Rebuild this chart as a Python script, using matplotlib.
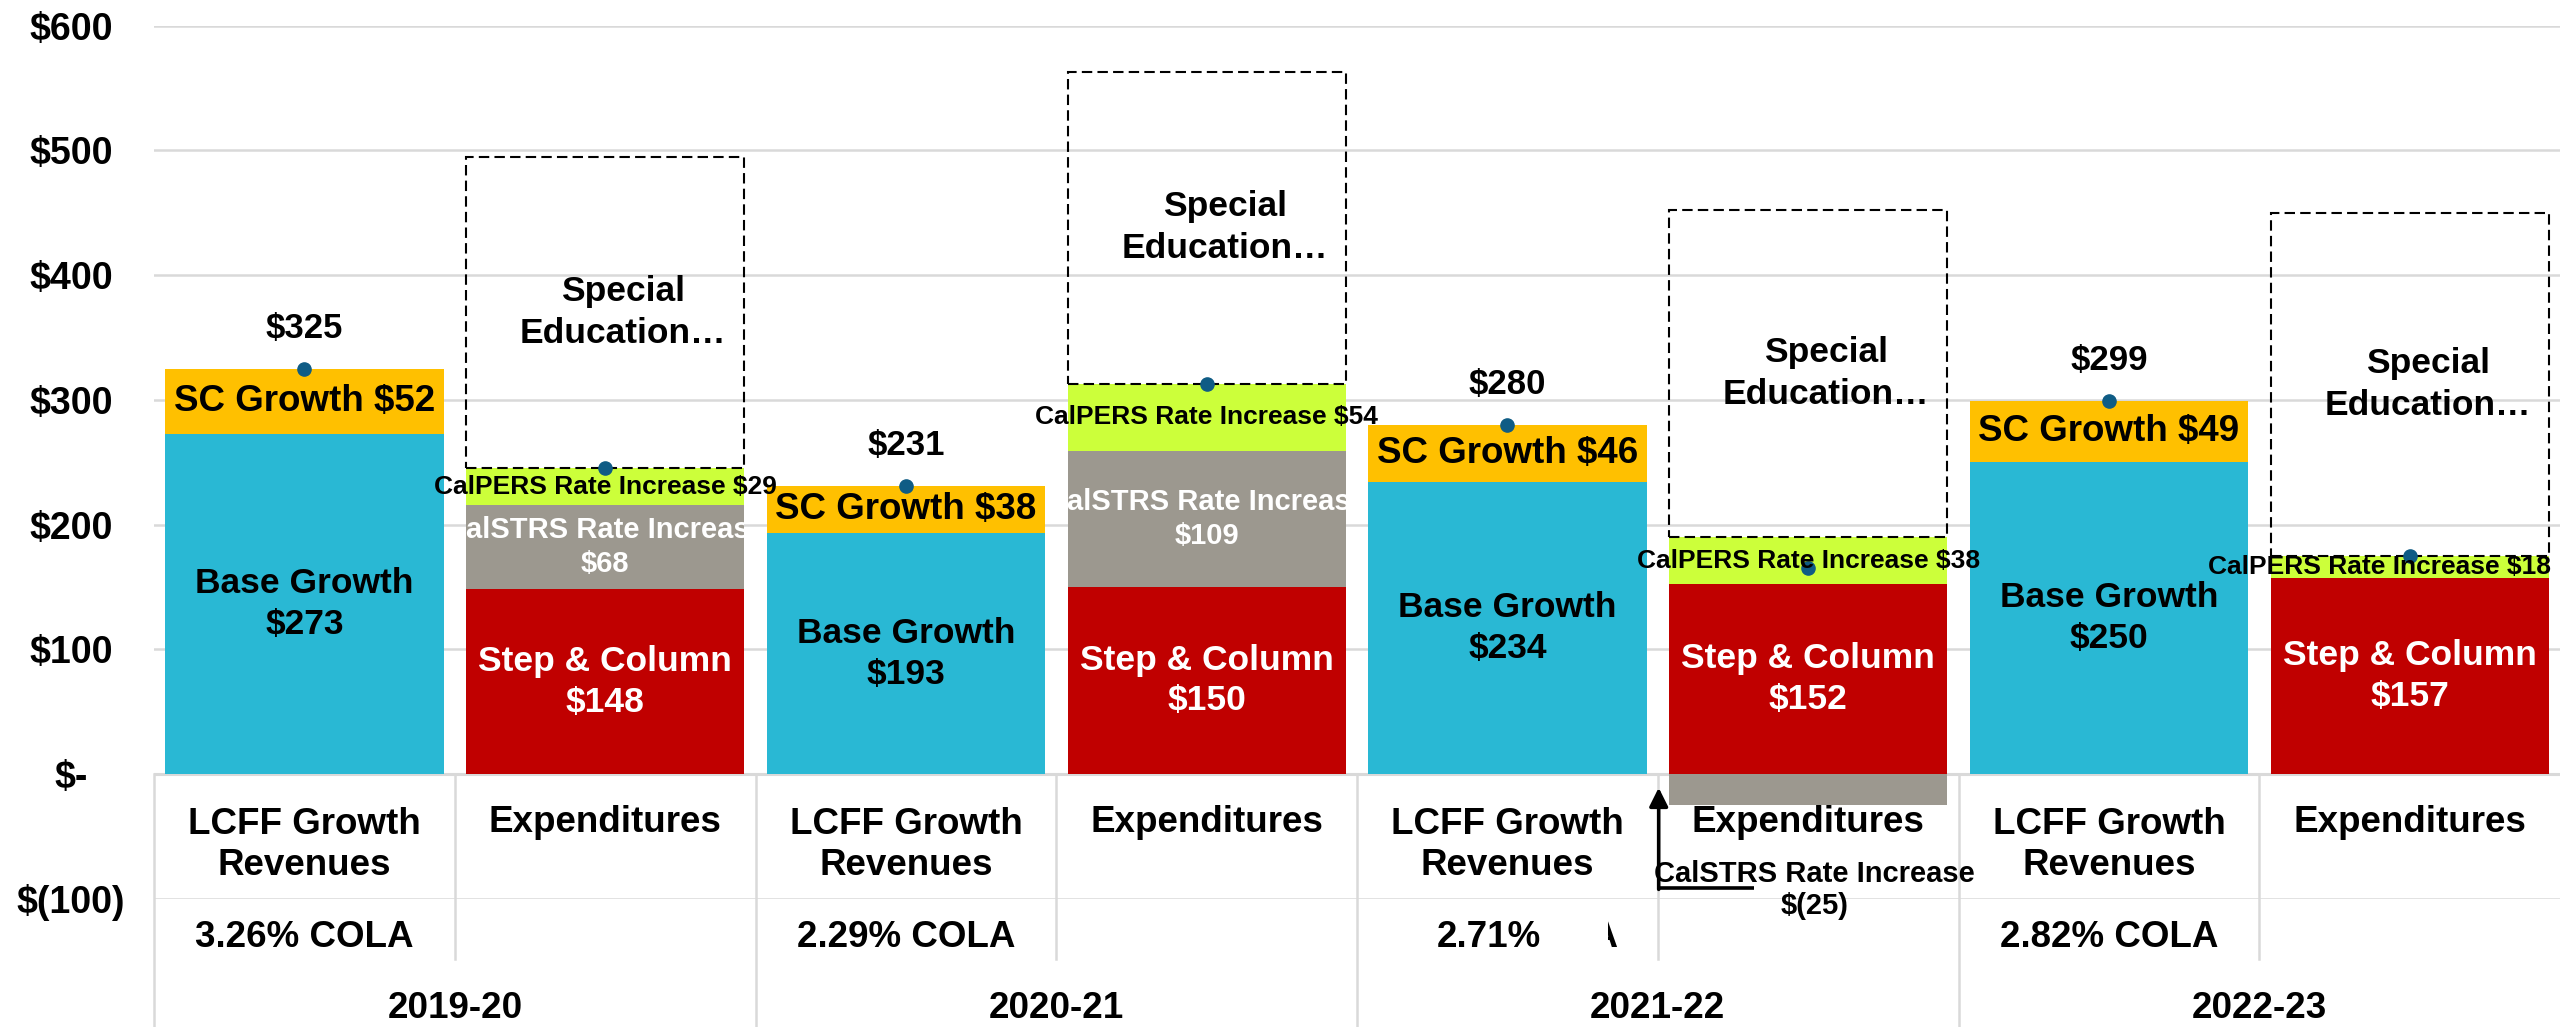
import matplotlib.pyplot as plt
from matplotlib.patches import Rectangle

plt.rcParams['font.family'] = ['Liberation Sans', 'DejaVu Sans']
plt.rcParams['font.weight'] = 'bold'

# data ($ millions)
years = ['2019-20', '2020-21', '2021-22', '2022-23']
cola_labels = ['3.26% COLA', '2.29% COLA', '2.71%', '2.82% COLA']
base_growth = [273, 193, 234, 250]
sc_growth = [52, 38, 46, 49]
step_column = [148, 150, 152, 157]
calstrs = [68, 109, -25, 0]
calpers = [29, 54, 38, 18]
special_ed = [250, 250, 262, 275]
y_ticks = [-100, 0, 100, 200, 300, 400, 500, 600]

BASE = '#29B8D4'
SC = '#FFC000'
PERS = '#CCFF3A'
STRS = '#9C988F'
STEP = '#C00000'
DOT = '#0F5C85'
GRID = '#D9D9D9'
W = 0.925


def money(v):
    if v == 0:
        return '$-'
    if v < 0:
        return f'$({-v})'
    return f'${v}'


fig = plt.figure(figsize=(25.6, 10.27), dpi=100)
ax = fig.add_axes([0.0602, 0.1249, 0.9398, 0.8501])
ax.set_xlim(-0.5, 7.5)
ax.set_ylim(-100, 600)
for s in ax.spines.values():
    s.set_visible(False)
ax.set_xticks([])
ax.set_yticks(y_ticks)
ax.set_yticklabels([money(v) for v in y_ticks])
ax.tick_params(axis='y', length=0, pad=60, labelsize=27)
for lbl in ax.get_yticklabels():
    lbl.set_horizontalalignment('center')
ax.yaxis.grid(True, color=GRID, lw=1.8)
ax.set_axisbelow(True)
ax.axhline(0, color=GRID, lw=2.2, zorder=1)

rev_x = [2 * i for i in range(len(years))]
exp_x = [2 * i + 1 for i in range(len(years))]

# revenue bars
ax.bar(rev_x, base_growth, width=W, color=BASE, zorder=2)
ax.bar(rev_x, sc_growth, bottom=base_growth, width=W, color=SC, zorder=2)
rev_tot = [b + s for b, s in zip(base_growth, sc_growth)]
for x, b, s, t in zip(rev_x, base_growth, sc_growth, rev_tot):
    ax.text(x, b / 2, f'Base Growth\n${b}', ha='center', va='center',
            fontsize=25.5, linespacing=1.3, zorder=4)
    ax.text(x, b + s / 2, f'SC Growth ${s}', ha='center', va='center',
            fontsize=26.5, zorder=4)
    ax.annotate(f'${t}', (x, t), xytext=(0, 29), textcoords='offset points',
                ha='center', va='center', fontsize=25, zorder=4)
ax.plot(rev_x, rev_tot, 'o', ms=9.5, color=DOT, zorder=5)

# expenditure bars
ax.bar(exp_x, step_column, width=W, color=STEP, zorder=2)
top = list(step_column)
strs_bottom = []
for i, v in enumerate(calstrs):
    if v >= 0:
        strs_bottom.append(top[i])
        top[i] += v
    else:
        strs_bottom.append(0)
strs_bars = ax.bar(exp_x, calstrs, bottom=strs_bottom, width=W, color=STRS, zorder=2)
ax.bar(exp_x, calpers, bottom=top, width=W, color=PERS, zorder=2)
se_bottom = [t + p for t, p in zip(top, calpers)]
ax.bar(exp_x, special_ed, bottom=se_bottom, width=W, fill=False,
       edgecolor='black', linewidth=1.5, linestyle=(0, (5, 2.5)), zorder=3)
exp_tot = [a + b + c for a, b, c in zip(step_column, calstrs, calpers)]

for i, x in enumerate(exp_x):
    ax.text(x, step_column[i] / 2, f'Step & Column\n${step_column[i]}',
            ha='center', va='center', color='white', fontsize=25.5,
            linespacing=1.3, zorder=4)
    if calstrs[i] > 0:
        t = ax.text(x, strs_bottom[i] + calstrs[i] / 2,
                    f'CalSTRS Rate Increase\n${calstrs[i]}', ha='center',
                    va='center', color='white', fontsize=21, linespacing=1.25,
                    zorder=4, clip_on=True)
        t.set_clip_path(strs_bars[i])
    # the last label is pulled inside the chart edge
    if i == len(exp_x) - 1:
        px, ha = 7.47, 'right'
    else:
        px, ha = x, 'center'
    ax.text(px, top[i] + calpers[i] / 2, f'CalPERS Rate Increase ${calpers[i]}',
            ha=ha, va='center', fontsize=19, zorder=6)
    ax.text(x + 0.06, se_bottom[i] + special_ed[i] / 2, 'Special\nEducation…',
            ha='center', va='center', fontsize=25.5, linespacing=1.35, zorder=4)
ax.plot(exp_x, exp_tot, 'o', ms=9.5, color=DOT, zorder=5)

# negative CalSTRS label with leader line
for i, v in enumerate(calstrs):
    if v < 0:
        x = exp_x[i]
        ax.text(x + 0.02, -93, f'CalSTRS Rate Increase\n{money(v)}', ha='center',
                va='center', fontsize=21, linespacing=1.2, zorder=6, clip_on=False)
        ax.plot([x - 0.497, x - 0.181], [-91.4, -91.4], color='black', lw=2.6,
                zorder=6, clip_on=False, solid_capstyle='butt')
        ax.annotate('', xy=(x - 0.497, -11), xytext=(x - 0.497, -92.5),
                    arrowprops=dict(arrowstyle='-|>', lw=2.6, color='black',
                                    mutation_scale=28, shrinkA=0, shrinkB=0),
                    zorder=6, annotation_clip=False)

# category table under the axis
bottom = -210
ax.plot([-0.5, -0.5], [0, bottom], color=GRID, lw=1.8, clip_on=False, zorder=1)
for i in range(len(years)):
    ax.plot([rev_x[i] + 0.5] * 2, [0, -148.5], color=GRID, lw=1.8, clip_on=False, zorder=1)
    if i < len(years) - 1:
        ax.plot([exp_x[i] + 0.5] * 2, [0, bottom], color=GRID, lw=1.8,
                clip_on=False, zorder=1)
    ax.text(rev_x[i], -57, 'LCFF Growth\nRevenues', ha='center', va='center',
            fontsize=26.5, linespacing=1.25, clip_on=False)
    ax.text(exp_x[i], -39, 'Expenditures', ha='center', va='center',
            fontsize=26.5, clip_on=False)
    ax.text(rev_x[i] + 0.5, -188, years[i], ha='center', va='center',
            fontsize=26.5, clip_on=False)
    if cola_labels[i].endswith('COLA'):
        ax.text(rev_x[i], -131, cola_labels[i], ha='center', va='center',
                fontsize=26.5, clip_on=False)
    else:
        # the rest of this label is hidden behind a blank shape in the original
        ax.text(rev_x[i] - 0.235, -131, cola_labels[i], ha='left', va='center',
                fontsize=26.5, clip_on=False)
        frag = ax.text(rev_x[i] + 0.37, -131, 'COLA', ha='right', va='center',
                       fontsize=26.5, clip_on=True)
        frag.set_clip_path(Rectangle((rev_x[i] + 0.334, -160), 0.2, 70,
                                     transform=ax.transData))

fig.savefig('out.png', dpi=100)
